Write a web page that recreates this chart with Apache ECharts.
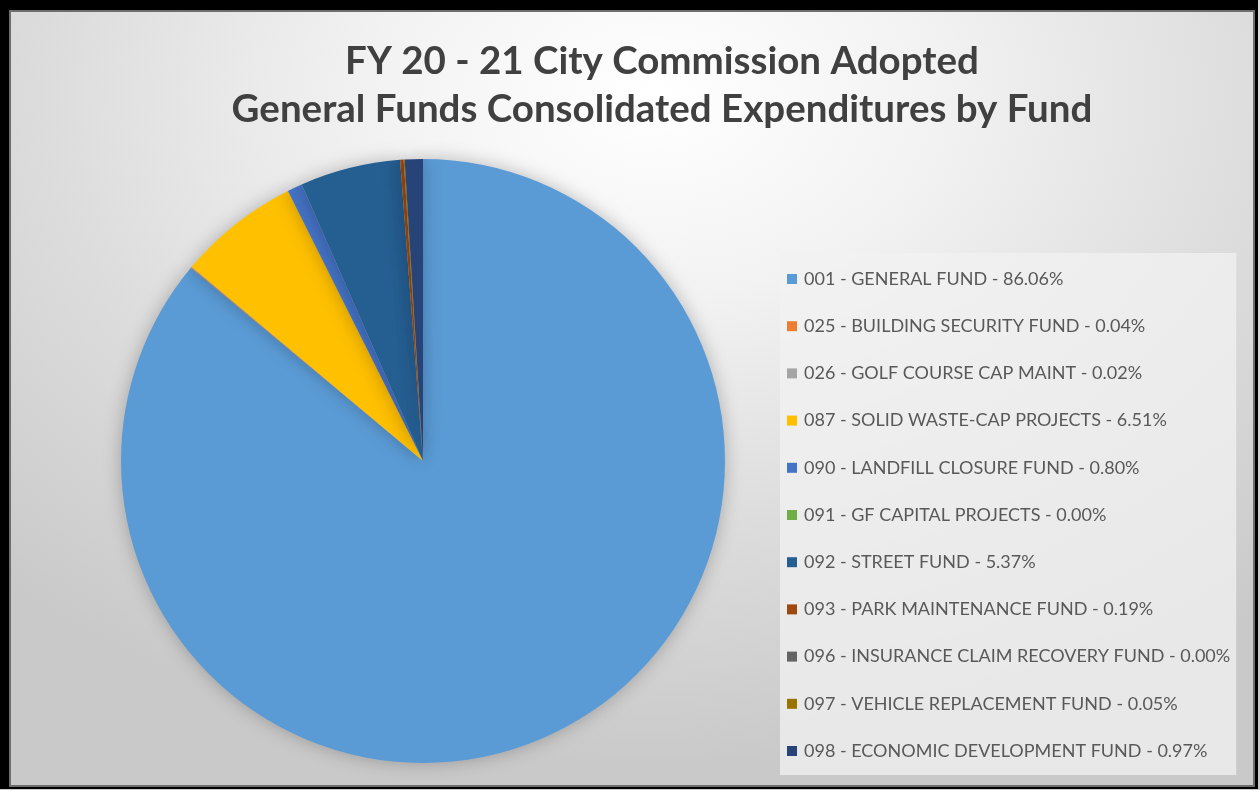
<!DOCTYPE html>
<html>
<head>
<meta charset="utf-8">
<script src="https://cdn.jsdelivr.net/npm/echarts@6/dist/echarts.min.js"></script>
<style>
  html, body { margin: 0; padding: 0; background: #fff; }
  #wrap { position: relative; width: 1260px; height: 790px; }
  #chart {
    position: absolute; left: 0; top: 0; width: 1260px; height: 790px;
    background: radial-gradient(ellipse 75% 85% at 52% 12%, #ffffff 0%, #f2f2f2 30%, #dcdcdc 65%, #c9c9c9 100%);
  }
  #frame {
    position: absolute; left: 0; top: 0; width: 1258px; height: 789px;
    box-sizing: border-box; pointer-events: none;
    border-style: solid; border-color: #000;
    border-width: 10px 3px 2px 9px;
    box-shadow: inset 0 0 0 2px #6e6e6e;
  }
</style>
</head>
<body>
<div id="wrap">
  <div id="chart"></div>
  <div id="frame"></div>
</div>
<script>
// 数据
const funds = [
  '001 - GENERAL FUND',
  '025 - BUILDING SECURITY FUND',
  '026 - GOLF COURSE CAP MAINT',
  '087 - SOLID WASTE-CAP PROJECTS',
  '090 - LANDFILL CLOSURE FUND',
  '091 - GF CAPITAL PROJECTS',
  '092 - STREET FUND',
  '093 - PARK MAINTENANCE FUND',
  '096 - INSURANCE CLAIM RECOVERY FUND',
  '097 - VEHICLE REPLACEMENT FUND',
  '098 - ECONOMIC DEVELOPMENT FUND'
];
const percents = [86.06, 0.04, 0.02, 6.51, 0.80, 0.00, 5.37, 0.19, 0.00, 0.05, 0.97];
const colors = ['#5B9BD5', '#ED7D31', '#A5A5A5', '#FFC000', '#4472C4', '#70AD47',
                '#255E91', '#9E480E', '#636363', '#997300', '#264478'];

const pctOf = {};
funds.forEach((f, i) => { pctOf[f] = percents[i].toFixed(2) + '%'; });

const chart = echarts.init(document.getElementById('chart'), null, { renderer: 'canvas' });
chart.setOption({
  animation: false,
  backgroundColor: 'transparent',
  color: colors,
  //标题
  title: {
    text: 'FY 20 - 21 City Commission Adopted\nGeneral Funds Consolidated Expenditures by Fund',
    left: 657,
    textAlign: 'center',
    top: 33,
    textStyle: {
      fontFamily: 'Lato',
      fontWeight: 'bold',
      fontSize: 38.5,
      lineHeight: 48,
      color: '#404040'
    }
  },
  //图例
  legend: {
    orient: 'vertical',
    left: 780,
    top: 253,
    padding: [16, 6, 14, 7],
    backgroundColor: 'rgba(242,242,242,0.75)',
    itemWidth: 10,
    itemHeight: 10,
    itemGap: 27.2,
    icon: 'rect',
    textStyle: {
      fontFamily: 'Lato',
      fontSize: 18,
      lineHeight: 20,
      padding: [0, 0, 0, 2],
      color: '#595959'
    },
    formatter: name => name + ' - ' + pctOf[name],
    data: funds
  },
  series: [{
    type: 'pie',
    center: [423, 461],
    radius: 302,
    startAngle: 90,
    clockwise: true,
    label: { show: false },
    labelLine: { show: false },
    emphasis: { disabled: true },
    itemStyle: {
      shadowBlur: 18,
      shadowColor: 'rgba(0,0,0,0.25)'
    },
    data: funds.map((f, i) => ({ name: f, value: percents[i] }))
  }]
});
</script>
</body>
</html>
